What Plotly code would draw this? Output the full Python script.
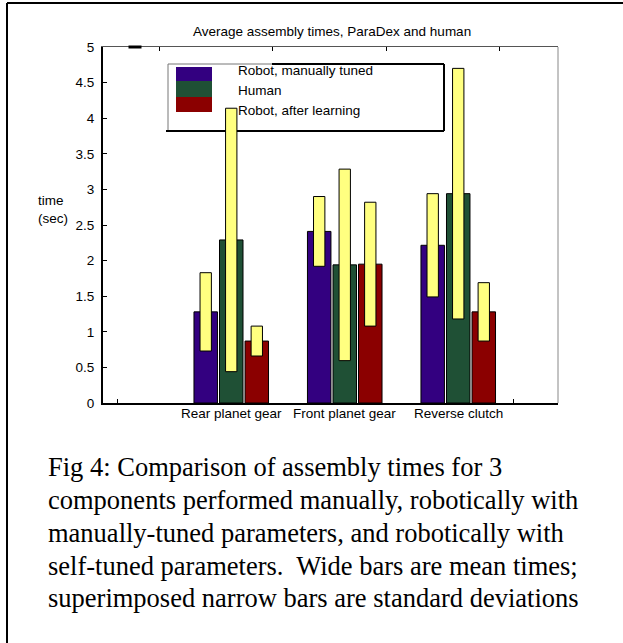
import plotly.graph_objects as go

# ---------------- data ----------------
categories = ["Rear planet gear", "Front planet gear", "Reverse clutch"]
series_names = ["Robot, manually tuned", "Human", "Robot, after learning"]

robot_manual_mean = [1.28, 2.41, 2.215]
human_mean = [2.29, 1.94, 2.94]
robot_learned_mean = [0.87, 1.95, 1.28]

robot_manual_sd = [0.55, 0.49, 0.725]
human_sd = [1.85, 1.345, 1.76]
robot_learned_sd = [0.21, 0.87, 0.41]

y_tick_vals = [0, 0.5, 1, 1.5, 2, 2.5, 3, 3.5, 4, 4.5, 5]
y_tick_text = ["0", "0.5", "1", "1.5", "2", "2.5", "3", "3.5", "4", "4.5", "5"]

title_text = "Average assembly times, ParaDex and human"
y_label_lines = ["time", "(sec)"]
caption_lines = [
    "Fig 4: Comparison of assembly times for 3",
    "components performed manually, robotically with",
    "manually-tuned parameters, and robotically with",
    "self-tuned parameters.  Wide bars are mean times;",
    "superimposed narrow bars are standard deviations",
]

# ---------------- styling ----------------
W, H = 623, 643
L, R, T, B = 103, 558, 47, 403
bar_colors = ["#330080", "#1F5035", "#8B0000"]
sd_color = "#FFFF80"
offsets = [-0.225, 0.0, 0.225]
wide_w = 0.207
narrow_w = 0.10
SANS = "Liberation Sans, Arial, sans-serif"
SERIF = "Liberation Serif, Times New Roman, serif"


def px_x(px):
    return (px - L) / (R - L)


def px_y(py):
    return (B - py) / (B - T)


means = [robot_manual_mean, human_mean, robot_learned_mean]
sds = [robot_manual_sd, human_sd, robot_learned_sd]
xpos = list(range(1, len(categories) + 1))

fig = go.Figure()
for name, m, c, off in zip(series_names, means, bar_colors, offsets):
    fig.add_trace(go.Bar(
        x=xpos, y=m, name=name, width=wide_w, offset=off - wide_w / 2,
        marker=dict(color=c, line=dict(color="black", width=1)),
        showlegend=False,
    ))
for name, m, s, off in zip(series_names, means, sds, offsets):
    fig.add_trace(go.Bar(
        x=xpos, y=[2 * v for v in s], base=[a - b for a, b in zip(m, s)],
        name=name + " sd", width=narrow_w, offset=off - narrow_w / 2,
        marker=dict(color=sd_color, line=dict(color="black", width=1)),
        showlegend=False,
    ))
# dummy trace so the top axis is drawn
fig.add_trace(go.Scatter(x=[None], y=[None], xaxis="x2", yaxis="y",
                         showlegend=False, hoverinfo="skip"))

xr = [-0.13, 3.879]
shapes = []
annotations = []

# right frame line (gray)
shapes.append(dict(type="line", xref="paper", yref="paper", x0=1, x1=1, y0=0, y1=1,
                   line=dict(color="#888888", width=1)))
# short thick dash on top axis
shapes.append(dict(type="line", xref="paper", yref="paper",
                   x0=px_x(128.5), x1=px_x(141.5), y0=1, y1=1,
                   line=dict(color="black", width=3)))

# legend box
lx0, lx1, ly0, ly1 = 168, 444, 64, 131
shapes += [
    dict(type="line", xref="paper", yref="paper", x0=px_x(lx0), x1=px_x(lx0),
         y0=px_y(ly0), y1=px_y(ly1), line=dict(color="#777777", width=1), layer="below"),
    dict(type="line", xref="paper", yref="paper", x0=px_x(lx0), x1=px_x(272),
         y0=px_y(ly0), y1=px_y(ly0), line=dict(color="#777777", width=1), layer="below"),
    dict(type="line", xref="paper", yref="paper", x0=px_x(272), x1=px_x(lx1),
         y0=px_y(ly0), y1=px_y(ly0), line=dict(color="black", width=2), layer="below"),
    dict(type="line", xref="paper", yref="paper", x0=px_x(lx1), x1=px_x(lx1),
         y0=px_y(ly0), y1=px_y(ly1), line=dict(color="black", width=2), layer="below"),
    dict(type="line", xref="paper", yref="paper", x0=px_x(166), x1=px_x(lx1),
         y0=px_y(ly1), y1=px_y(ly1), line=dict(color="black", width=2), layer="below"),
]
sw_rows = [(67, 81), (81, 97), (97, 112)]
text_y = [70, 90, 110]
for name, c, (a, b), ty in zip(series_names, bar_colors, sw_rows, text_y):
    shapes.append(dict(type="rect", xref="paper", yref="paper",
                       x0=px_x(176), x1=px_x(212), y0=px_y(a), y1=px_y(b),
                       fillcolor=c, line=dict(width=0)))
    annotations.append(dict(text=name, xref="paper", yref="paper", x=px_x(236), y=px_y(ty),
                            xanchor="left", yanchor="middle", showarrow=False,
                            font=dict(family=SANS, size=13.5, color="black")))

# category labels under the groups
for cat, xp in zip(categories, xpos):
    annotations.append(dict(text=cat, xref="x", yref="paper", x=xp, y=px_y(413.5),
                            xanchor="center", yanchor="middle", showarrow=False,
                            font=dict(family=SANS, size=13.5, color="black")))

# title
annotations.append(dict(text=title_text, xref="paper", yref="paper", x=px_x(332), y=px_y(31.5),
                        xanchor="center", yanchor="middle", showarrow=False,
                        font=dict(family=SANS, size=13.5, color="black")))
# y label (two lines in one text)
annotations.append(dict(text="<br>".join(y_label_lines), xref="paper", yref="paper",
                        x=px_x(36), y=px_y(209.5), xanchor="left", yanchor="middle",
                        align="left", showarrow=False,
                        font=dict(family=SANS, size=13.5, color="black")))
# caption
for line, cy in zip(caption_lines, [467, 500, 533, 566, 598]):
    annotations.append(dict(text=line, xref="paper", yref="paper", x=px_x(46), y=px_y(cy),
                            xanchor="left", yanchor="middle", showarrow=False,
                            font=dict(family=SERIF, size=26.5, color="black")))

# outer page border (top and left)
shapes.append(dict(type="line", xref="paper", yref="paper", x0=px_x(7), x1=px_x(623),
                   y0=px_y(3), y1=px_y(3), line=dict(color="black", width=2)))
shapes.append(dict(type="line", xref="paper", yref="paper", x0=px_x(7), x1=px_x(7),
                   y0=px_y(3), y1=px_y(643), line=dict(color="black", width=2)))

fig.update_layout(
    width=W, height=H, autosize=False,
    margin=dict(l=L, r=W - R, t=T, b=H - B, pad=0),
    paper_bgcolor="white", plot_bgcolor="white",
    barmode="overlay",
    font=dict(family=SANS, size=13.5, color="black"),
    xaxis=dict(range=xr, tickvals=xpos, ticktext=categories, ticks="",
               showticklabels=False,
               showline=True, linecolor="black", linewidth=2, showgrid=False,
               zeroline=False,
               minor=dict(tickvals=[0, 3.49], ticks="inside", ticklen=4,
                          tickcolor="black", showgrid=False)),
    xaxis2=dict(range=xr, overlaying="x", side="top", anchor="y",
                tickvals=[0.365, 1.365, 2.365, 3.36], ticks="inside", ticklen=4,
                tickcolor="black", showticklabels=False, showline=True,
                linecolor="#555555", linewidth=1, showgrid=False, zeroline=False),
    yaxis=dict(range=[0, 5], tickvals=y_tick_vals, ticktext=y_tick_text,
               ticks="inside", ticklen=4, tickcolor="black", showline=True,
               linecolor="black", linewidth=2, showgrid=False, zeroline=False,
               tickfont=dict(size=13.5), ticklabelstandoff=4),
    shapes=shapes, annotations=annotations,
    showlegend=False,
)

fig.write_html("out.html", config={"displayModeBar": False},
               post_script="document.body.style.margin='0';")
